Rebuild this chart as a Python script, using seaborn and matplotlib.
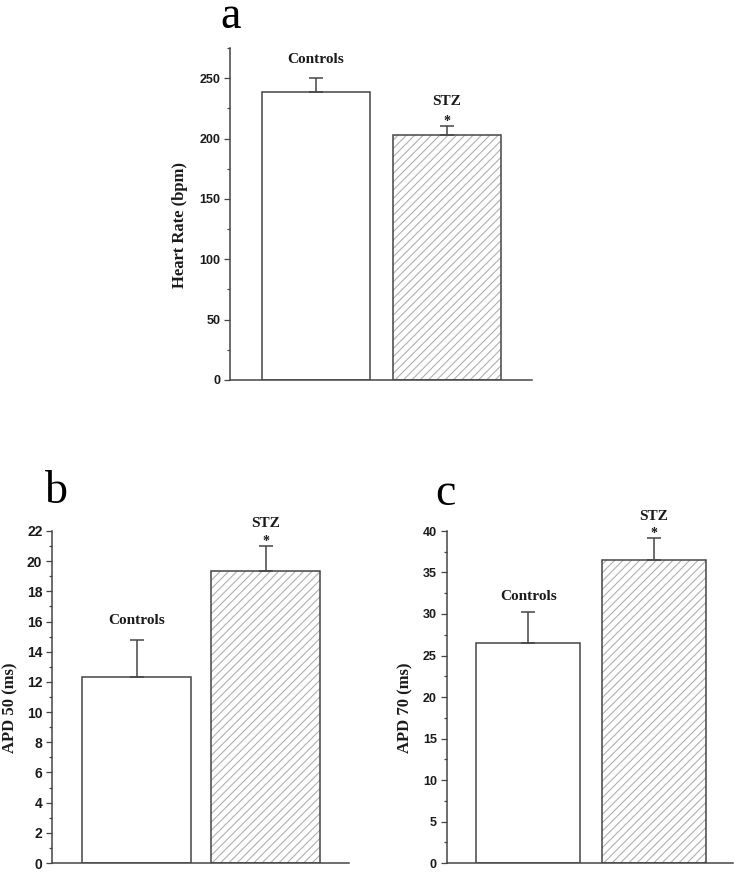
import matplotlib
matplotlib.use("Agg")
import matplotlib.pyplot as plt
import matplotlib.colors as mcolors
from matplotlib.ticker import MultipleLocator
import seaborn as sns
import pandas as pd

# ---- data ----
groups = ["Controls", "STZ"]
heart_rate = [238.5, 202.8]
heart_rate_err = [11.5, 7.5]
apd50 = [12.35, 19.35]
apd50_err = [2.43, 1.65]
apd70 = [26.5, 36.5]
apd70_err = [3.8, 2.7]
panel_letters = ["a", "b", "c"]
ylabels = ["Heart Rate (bpm)", "APD 50 (ms)", "APD 70 (ms)"]

sns.set_style("ticks")
plt.rcParams["hatch.linewidth"] = 0.8

DARK = "#454545"
HATCH = "#b0b0b0"
TEXT = "#1a1a1a"
SERIF = "Liberation Serif"
SANS = "Liberation Sans"

W, H = 739, 872
fig = plt.figure(figsize=(W / 100, H / 100), dpi=100)


def px_axes(left, top, right, bottom):
    return fig.add_axes([left / W, 1 - bottom / H, (right - left) / W, (bottom - top) / H])


panels = [
    dict(ax=px_axes(230, 48, 532, 380), vals=heart_rate, errs=heart_rate_err,
         ylim=275, major=50, minor=25, xlim=(-0.656, 1.65), width=0.83,
         tick_fs=9, ylab_xy=(-0.166, 0.468),
         letter_xy=(231, 28), ctrl_off=15, stz_off=21),
    dict(ax=px_axes(52, 531, 349, 863), vals=apd50, errs=apd50_err,
         ylim=22, major=2, minor=1, xlim=(-0.655, 1.647), width=0.845,
         tick_fs=10, ylab_xy=(-0.141, 0.468),
         letter_xy=(56, 503), ctrl_off=16, stz_off=19),
    dict(ax=px_axes(446.7, 531, 733, 863), vals=apd70, errs=apd70_err,
         ylim=40, major=5, minor=2.5, xlim=(-0.648, 1.63), width=0.83,
         tick_fs=9, ylab_xy=(-0.146, 0.467),
         letter_xy=(445, 505), ctrl_off=12, stz_off=18),
]

for p, letter, ylab in zip(panels, panel_letters, ylabels):
    ax = p["ax"]
    df = pd.DataFrame({"group": groups, "value": p["vals"]})
    sns.barplot(data=df, x="group", y="value", ax=ax, color="white",
                width=p["width"], edgecolor=DARK, linewidth=1.1,
                errorbar=None, saturation=1)
    # hatch on STZ bar
    bar = ax.patches[1]
    bar.set_hatch("////")
    bar._hatch_color = mcolors.to_rgba(HATCH)
    bar.set_facecolor("white")
    ax.patches[0].set_facecolor("white")

    xs = [0, 1]
    ax.errorbar(xs, p["vals"], yerr=[[0, 0], p["errs"]], fmt="none",
                ecolor=DARK, elinewidth=1.1, capsize=4.7, capthick=1.1, zorder=1)

    # annotations
    tops = [v + e for v, e in zip(p["vals"], p["errs"])]
    ax.annotate("Controls", xy=(0, tops[0]), xytext=(0, p["ctrl_off"]),
                textcoords="offset pixels", ha="center", va="baseline",
                fontfamily=SERIF, fontweight="bold", fontsize=11, color=TEXT)
    ax.annotate("STZ", xy=(1, tops[1]), xytext=(0, p["stz_off"]),
                textcoords="offset pixels", ha="center", va="baseline",
                fontfamily=SERIF, fontweight="bold", fontsize=11, color=TEXT)
    ax.annotate("*", xy=(1, tops[1]), xytext=(0, 1),
                textcoords="offset pixels", ha="center", va="baseline",
                fontfamily=SERIF, fontweight="bold", fontsize=10, color=TEXT)

    ax.set_xlim(*p["xlim"])
    ax.set_ylim(0, p["ylim"])
    ax.yaxis.set_major_locator(MultipleLocator(p["major"]))
    ax.yaxis.set_minor_locator(MultipleLocator(p["minor"]))
    ax.set_xticks([])
    ax.set_xlabel("")
    ax.set_ylabel(ylab, fontfamily=SERIF, fontweight="bold", fontsize=12,
                  color=TEXT)
    ax.yaxis.label.set_va("center")
    ax.yaxis.set_label_coords(*p["ylab_xy"])
    ax.tick_params(axis="y", which="major", length=4.5, width=0.9, color=DARK,
                   pad=2.5, direction="out")
    ax.tick_params(axis="y", which="minor", length=2.3, width=0.9, color=DARK,
                   direction="out")
    for lab in ax.get_yticklabels():
        lab.set_fontfamily(SANS)
        lab.set_fontweight("bold")
        lab.set_fontsize(p["tick_fs"])
        lab.set_color(TEXT)
    for side in ["top", "right"]:
        ax.spines[side].set_visible(False)
    for side in ["left", "bottom"]:
        ax.spines[side].set_color(DARK)
        ax.spines[side].set_linewidth(1.1)
    ax.set_facecolor("white")

    lx, ly = p["letter_xy"]
    fig.text(lx / W, 1 - ly / H, letter, ha="center", va="baseline",
             fontfamily=SERIF, fontsize=33, color="black")

fig.savefig("out.png", dpi=100, facecolor="white")
